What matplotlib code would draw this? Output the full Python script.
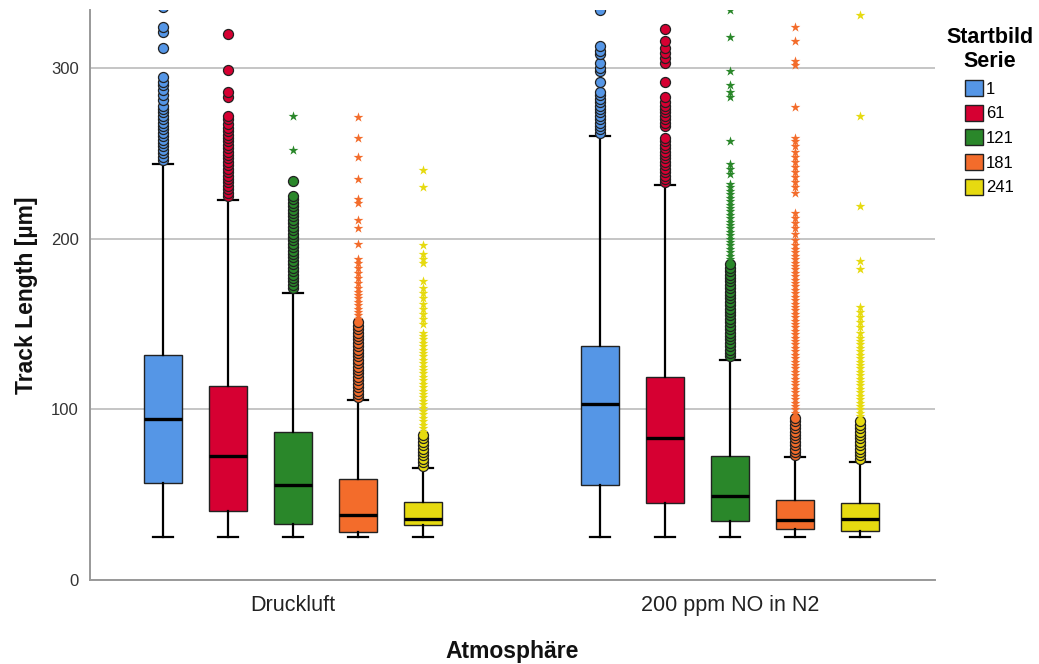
import matplotlib.pyplot as plt
from matplotlib.patches import Patch

plt.rcParams['font.family'] = ['Liberation Sans', 'DejaVu Sans']

# Gruppen und Serien
groups = ['Druckluft', '200 ppm NO in N2']
series = ['1', '61', '121', '181', '241']
colors = ['#5596E6', '#D60032', '#2A872A', '#F36C2B', '#E6DA10']

# Boxplot-Kennwerte
druck_q1 = [56.8, 40.4, 33.0, 28.4, 32.5]
druck_med = [94.5, 72.4, 55.4, 38.2, 35.7]
druck_q3 = [131.7, 113.7, 86.7, 59.0, 45.9]
druck_lo = [25, 25, 25, 25, 25]
druck_hi = [243.5, 222.6, 168.4, 105.7, 65.8]

no_q1 = [55.8, 45.3, 34.7, 30.0, 28.5]
no_med = [103.1, 83.2, 49.4, 34.9, 35.5]
no_q3 = [137.1, 119.2, 72.6, 46.6, 45.0]
no_lo = [25, 25, 25, 25, 25]
no_hi = [260, 231.4, 129.1, 72.0, 69.1]

# Ausreisser (Kreise) und Extremwerte (Sterne)
druck_circ = [
    [246, 248, 250, 252, 254, 256, 258, 260, 262, 264, 266, 268, 270, 272, 274,
     276, 278, 281, 284, 287, 290, 292, 295, 312, 321, 324, 336],
    [225, 227, 229, 231, 233, 235, 237, 239, 241, 243, 245, 247, 249, 251, 253,
     255, 257, 259, 261, 263, 265, 267, 270, 272, 283, 286, 299, 320],
    [171, 173, 175, 177, 179, 181, 183, 185, 187, 189, 191, 193, 195, 197, 199,
     201, 203, 205, 207, 209, 211, 213, 215, 217, 219, 221, 223, 225, 234],
    [107, 109, 111, 113, 115, 117, 119, 121, 123, 125, 127, 129, 131, 133, 135,
     137, 139, 141, 143, 145, 147, 149, 151],
    [67, 69, 71, 73, 75, 77, 79, 81, 83, 85],
]
druck_star = [
    [],
    [],
    [252, 272],
    [153, 155, 157, 159, 161, 163, 165, 167, 169, 171, 174, 177, 180, 183, 186,
     188, 197, 206, 211, 221, 223, 235, 248, 259, 271],
    [87, 89, 91, 93, 95, 97, 99, 101, 103, 105, 107, 109, 111, 113, 115, 117,
     119, 121, 123, 125, 127, 129, 131, 133, 135, 137, 139, 141, 143, 145,
     150, 153, 156, 159, 162, 165, 168, 171, 175, 186, 188, 191, 196, 230, 240],
]
no_circ = [
    [262, 264, 266, 268, 270, 272, 274, 276, 278, 280, 282, 284, 286, 292, 298,
     300, 303, 308, 310, 313, 334],
    [233, 235, 237, 239, 241, 243, 245, 247, 249, 251, 253, 255, 257, 259, 266,
     268, 270, 272, 274, 276, 278, 280, 283, 292, 303, 306, 309, 312, 316, 323],
    [131, 133, 135, 137, 139, 141, 143, 145, 147, 149, 151, 153, 155, 157, 159,
     161, 163, 165, 167, 169, 171, 173, 175, 177, 179, 181, 183, 185],
    [73, 75, 77, 79, 81, 83, 85, 87, 89, 91, 93, 95],
    [71, 73, 75, 77, 79, 81, 83, 85, 87, 89, 91, 93],
]
no_star = [
    [],
    [],
    [188, 190, 192, 194, 196, 198, 200, 202, 204, 206, 208, 210, 212, 214, 216,
     218, 220, 222, 224, 226, 228, 230, 232, 238, 241, 244, 257, 283, 286, 290,
     298, 318, 334],
    [98, 100, 102, 104, 106, 108, 110, 112, 114, 116, 118, 120, 122, 124, 126,
     128, 130, 132, 134, 136, 138, 140, 142, 144, 146, 148, 150, 152, 154, 156,
     158, 160, 162, 164, 166, 168, 170, 172, 174, 176, 178, 180, 182, 184, 186,
     188, 190, 192, 194, 196, 199, 203, 206, 209, 212, 215, 227, 230, 233, 236,
     239, 242, 245, 248, 251, 254, 257, 259, 277, 302, 304, 316, 324],
    [96, 98, 100, 102, 104, 106, 108, 110, 112, 114, 116, 118, 120, 122, 124,
     126, 128, 130, 132, 134, 136, 138, 140, 142, 145, 148, 151, 154, 157, 160,
     182, 187, 219, 272, 331],
]

group_stats = [
    (druck_q1, druck_med, druck_q3, druck_lo, druck_hi, druck_circ, druck_star),
    (no_q1, no_med, no_q3, no_lo, no_hi, no_circ, no_star),
]

fig = plt.figure(figsize=(10.39, 6.64), dpi=100)
ax = fig.add_axes([0.0866, 0.1265, 0.8134, 0.8585])

step = 0.149
width = 0.087

for g, (q1, med, q3, lo, hi, circ, star) in enumerate(group_stats):
    for k in range(len(series)):
        pos = g + (k - 2) * step
        stats = [dict(med=med[k], q1=q1[k], q3=q3[k], whislo=lo[k], whishi=hi[k], fliers=[])]
        ax.bxp(stats, positions=[pos], widths=width, patch_artist=True,
               showfliers=False, manage_ticks=False, capwidths=0.046,
               boxprops=dict(facecolor=colors[k], edgecolor='#222222', linewidth=1.0),
               medianprops=dict(color='black', linewidth=2.4),
               whiskerprops=dict(color='black', linewidth=1.6),
               capprops=dict(color='black', linewidth=1.6))
        if circ[k]:
            ax.scatter([pos] * len(circ[k]), circ[k], s=52, marker='o',
                       facecolor=colors[k], edgecolor='#222222', linewidth=0.9,
                       zorder=4)
        if star[k]:
            ax.scatter([pos] * len(star[k]), star[k], s=55, marker='*',
                       color=colors[k], linewidth=0, zorder=4)

ax.set_xlim(-0.465, 1.469)
ax.set_ylim(0, 334)
ax.set_yticks([0, 100, 200, 300])
ax.set_xticks([0, 1])
ax.set_xticklabels(groups, fontsize=15.5, color='#222222')
ax.tick_params(axis='y', labelsize=12, length=0, pad=8, labelcolor='#333333')
ax.tick_params(axis='x', length=0, pad=11)
ax.yaxis.grid(True, color='#BBBBBB', linewidth=1.2)
ax.set_axisbelow(True)
for side in ['top', 'right']:
    ax.spines[side].set_visible(False)
for side in ['left', 'bottom']:
    ax.spines[side].set_color('#999999')
    ax.spines[side].set_linewidth(1.4)

ax.set_xlabel('Atmosphäre', fontsize=16.5, fontweight='bold', labelpad=17,
              color='#111111')
ax.set_ylabel('Track Length [µm]', fontsize=16.5, fontweight='bold', labelpad=9,
              color='#111111')

handles = [Patch(facecolor=c, edgecolor='#222222', linewidth=1.0) for c in colors]
leg = fig.legend(handles, series, loc='upper left',
                 bbox_to_anchor=(0.896, 0.982), frameon=False, fontsize=12,
                 title='Startbild\nSerie', handlelength=1.1, handleheight=1.1,
                 handletextpad=0.15, labelspacing=0.48)
leg.get_title().set_fontweight('bold')
leg.get_title().set_fontsize(15.5)
leg.get_title().set_multialignment('center')
leg.get_title().set_linespacing(1.2)

fig.savefig('out.png', dpi=100)
